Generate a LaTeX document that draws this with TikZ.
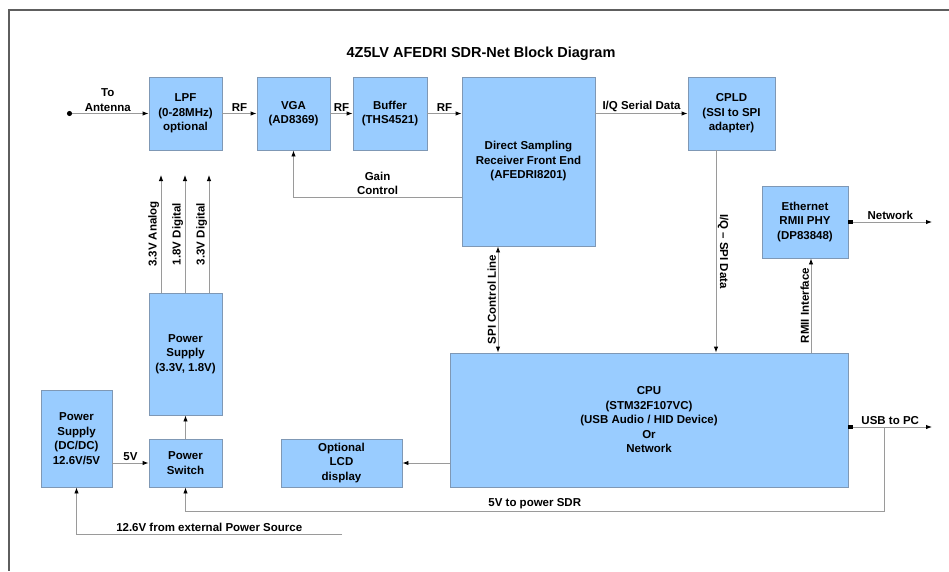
\documentclass[tikz,border=0pt]{standalone}
\usepackage{fontspec}
\setmainfont{Liberation Sans}
\usepackage{tikz}
\usetikzlibrary{arrows.meta,positioning}

\definecolor{blkfill}{HTML}{99CCFF}
\definecolor{blkline}{HTML}{7F98B5}
\definecolor{wire}{HTML}{9A9A9A}
\definecolor{frame}{HTML}{5E5E5E}

\newcommand\blkfont{\bfseries\fontsize{11.5}{14.5}\selectfont}

\tikzset{
  blk/.style={draw=blkline, fill=blkfill, line width=0.9pt, align=center,
              font=\blkfont, inner sep=1pt},
  tip/.style={-{Latex[color=black,length=6pt,width=4.5pt]}},
  link/.style={draw=wire, line width=0.9pt, tip},
  lbl/.style={font=\blkfont, inner sep=1.5pt, align=center},
}

\begin{document}
\begin{tikzpicture}[x=1pt,y=-1pt]
   \useasboundingbox (0,0) rectangle (949,571);
   \draw[frame, line width=1.2pt] (949,10) -- (9,10) -- (9,571);
   \node[font=\bfseries\fontsize{14.5}{17}\selectfont] (title) at (481,54) {4Z5LV AFEDRI SDR-Net Block Diagram};

   % top row
   \node[blk, minimum width=73pt, minimum height=73pt] (lpf) at (185.5,113.5) {LPF\\(0-28MHz)\\optional};
   \node[blk, minimum width=73pt, minimum height=73pt] (vga) at (293.5,113.5) {VGA\\(AD8369)};
   \node[blk, minimum width=74pt, minimum height=73pt] (buf) at (390,113.5) {Buffer\\(THS4521)};
   \node[blk, minimum width=133pt, minimum height=169pt] (dsr) at (528.5,161.5) {Direct Sampling\\Receiver Front End\\(AFEDRI8201)};
   \node[blk, minimum width=87pt, minimum height=73pt] (cpld) at (731.5,113.5) {CPLD\\(SSI to SPI\\adapter)};
   \node[blk, minimum width=86pt, minimum height=72pt] (eth) at (805,222) {Ethernet\\RMII PHY\\(DP83848)};

   % power and cpu
   \node[blk, minimum width=73pt, minimum height=122pt] (psa) at (185.5,354) {Power\\Supply\\(3.3V, 1.8V)};
   \node[blk, minimum width=71pt, minimum height=97pt] (psdc) at (76.5,438.5) {Power\\Supply\\(DC/DC)\\12.6V/5V};
   \node[blk, minimum width=73pt, minimum height=48pt] (psw) at (185.5,463) {Power\\Switch};
   \node[blk, minimum width=121pt, minimum height=48pt] (lcd) at (341.5,463) {Optional\\LCD\\display};
   \node[blk, minimum width=398pt, minimum height=134pt] (cpu) at (649,420) {CPU\\(STM32F107VC)\\(USB Audio / HID Device)\\Or\\Network};

   \coordinate (ant) at (67,113.5);
   \coordinate (spix) at (498,0);
   \coordinate (rmiix) at (811,0);
   \coordinate (net) at (932,222);
   \coordinate (pc) at (932,427);
   \coordinate (tap) at (884,427);
   \coordinate (bot) at (0,511);
   \coordinate (ext) at (342,534);

   % rf chain
   \draw[link, {Circle[color=black,length=5pt]}-{Latex[color=black,length=6pt,width=4.5pt]}]
        (ant) -- node[lbl, above] {To\\Antenna} (lpf.west);
   \draw[link] (lpf) -- node[lbl, above] {RF} (vga);
   \draw[link] (vga) -- node[lbl, above] {RF} (buf);
   \draw[link] (buf.east) -- node[lbl, above] {RF} (dsr.west |- buf.east);
   \draw[link] (dsr.east |- cpld.west) -- node[lbl, above] {I/Q Serial Data} (cpld.west);
   \draw[link] ([yshift=-35.5pt]dsr.west) -| node[lbl, above, pos=0.25] {Gain\\Control} (vga.south);

   % data to cpu
   \draw[link] ([xshift=-15.5pt]cpld.south) -- node[lbl, sloped, above] {I/Q -- SPI Data} ([xshift=-15.5pt]cpld.south |- cpu.north);
   \draw[link, {Latex[color=black,length=6pt,width=4.5pt]}-{Latex[color=black,length=6pt,width=4.5pt]}]
        (cpu.north -| spix) -- node[lbl, sloped, above] {SPI Control Line} (dsr.south -| spix);
   \draw[link] (cpu.north -| rmiix) -- node[lbl, sloped, above] {RMII Interface} (eth.south -| rmiix);
   \draw[link, {Square[color=black,length=4pt,width=4pt]}-{Latex[color=black,length=6pt,width=4.5pt]}]
        (eth.east) -- node[lbl, above] {Network} (net);
   \draw[link, {Square[color=black,length=4pt,width=4pt]}-{Latex[color=black,length=6pt,width=4.5pt]}]
        (cpu.east |- pc) -- node[lbl, above] {USB to PC} (pc);
   \draw[link] (cpu.west |- lcd.east) -- (lcd.east);

   % power
   \draw[link] (161,293) -- node[lbl, sloped, above] {3.3V Analog} (161,175);
   \draw[link] (185,293) -- node[lbl, sloped, above] {1.8V Digital} (185,175);
   \draw[link] (209,293) -- node[lbl, sloped, above] {3.3V Digital} (209,175);
   \draw[link] (psw) -- (psa);
   \draw[link] (psdc.east |- psw.west) -- node[lbl, above] {5V} (psw.west);
   \draw[link] (tap) -- (tap |- bot) -| node[lbl, above, pos=0.25] {5V to power SDR} (psw.south);
   \draw[link] (ext) -| node[lbl, above, pos=0.25] {12.6V from external Power Source} (psdc.south);
\end{tikzpicture}
\end{document}
